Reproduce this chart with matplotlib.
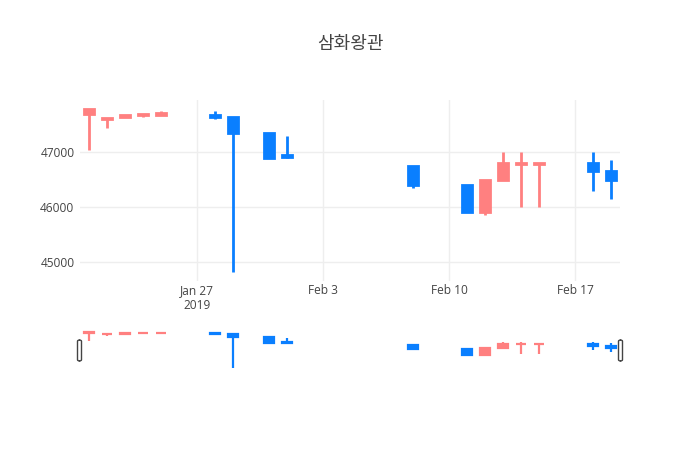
import matplotlib
matplotlib.use('Agg')
import matplotlib.pyplot as plt
import matplotlib.dates as mdates
from matplotlib.patches import FancyBboxPatch
import pandas as pd

plt.rcParams['font.family'] = ['Open Sans', 'Noto Sans CJK KR', 'DejaVu Sans']

# 일별 시세
dates = ['2019-01-21', '2019-01-22', '2019-01-23', '2019-01-24', '2019-01-25',
         '2019-01-28', '2019-01-29', '2019-01-31', '2019-02-01', '2019-02-08',
         '2019-02-11', '2019-02-12', '2019-02-13', '2019-02-14', '2019-02-15',
         '2019-02-18', '2019-02-19']
opens = [47700, 47600, 47640, 47690, 47690, 47680, 47650, 47350, 46950, 46750,
         46400, 45900, 46500, 46780, 46780, 46800, 46650]
highs = [47800, 47630, 47680, 47700, 47750, 47750, 47650, 47350, 47300, 46750,
         46400, 46500, 47000, 47000, 46800, 47000, 46850]
lows = [47050, 47450, 47640, 47650, 47690, 47600, 44800, 46900, 46900, 46350,
        45900, 45850, 46500, 46000, 46000, 46300, 46150]
closes = [47790, 47630, 47680, 47700, 47710, 47650, 47350, 46900, 46910, 46400,
          45900, 46500, 46800, 46800, 46800, 46650, 46500]

tick_dates = ['2019-01-27', '2019-02-03', '2019-02-10', '2019-02-17']
tick_labels = ['Jan 27\n2019', 'Feb 3', 'Feb 10', 'Feb 17']
y_ticks = [45000, 46000, 47000]

INC = '#ff8080'
DEC = '#0a7fff'

x = mdates.date2num(pd.to_datetime(dates))
xmin = mdates.date2num(pd.Timestamp('2019-01-20 12:00'))
xmax = mdates.date2num(pd.Timestamp('2019-02-19 12:00'))
ymin, ymax = 44644, 47956


def candles(ax, lw):
    for xi, o, h, l, c in zip(x, opens, highs, lows, closes):
        col = INC if c >= o else DEC
        ax.vlines(xi, l, h, color=col, linewidth=lw, zorder=3)
        lo, hi = min(o, c), max(o, c)
        ax.bar(xi, hi - lo, bottom=lo, width=0.55, color=col, edgecolor=col,
               linewidth=lw, zorder=4)
    ax.set_xlim(xmin, xmax)
    ax.set_ylim(ymin, ymax)


fig = plt.figure(figsize=(7, 4.5), dpi=100)
W, H = 700, 450

ax = fig.add_axes([80 / W, 1 - 281 / H, 540 / W, 181 / H])
candles(ax, 2)
ax.set_xticks(mdates.date2num(pd.to_datetime(tick_dates)))
ax.set_xticklabels(tick_labels)
ax.set_yticks(y_ticks)
ax.set_yticklabels([str(v) for v in y_ticks])
ax.grid(True, color='#eeeeee', linewidth=1, zorder=0)
ax.set_axisbelow(True)
for s in ax.spines.values():
    s.set_visible(False)
ax.tick_params(length=0, labelsize=8.6, colors='#444444', pad=4)
ax.tick_params(axis='x', pad=2)

# 범위 슬라이더
sl = fig.add_axes([80 / W, 1 - 370 / H, 540 / W, 40 / H])
candles(sl, 1.6)
sl.set_xticks([])
sl.set_yticks([])
for s in sl.spines.values():
    s.set_visible(False)

for hx in (79.5, 620.5):
    fig.patches.append(FancyBboxPatch(((hx - 2) / W, 1 - 361 / H), 4 / W, 21 / H,
                                      boxstyle='round,pad=0,rounding_size=0.003',
                                      transform=fig.transFigure, facecolor='white',
                                      edgecolor='#444444', linewidth=1, zorder=10))

fig.text(0.5, 1 - 44 / H, '삼화왕관', ha='center', va='center', fontsize=13,
         color='#444444', family=['Noto Sans CJK KR', 'DejaVu Sans'])

fig.savefig('out.png', dpi=100, facecolor='white')
